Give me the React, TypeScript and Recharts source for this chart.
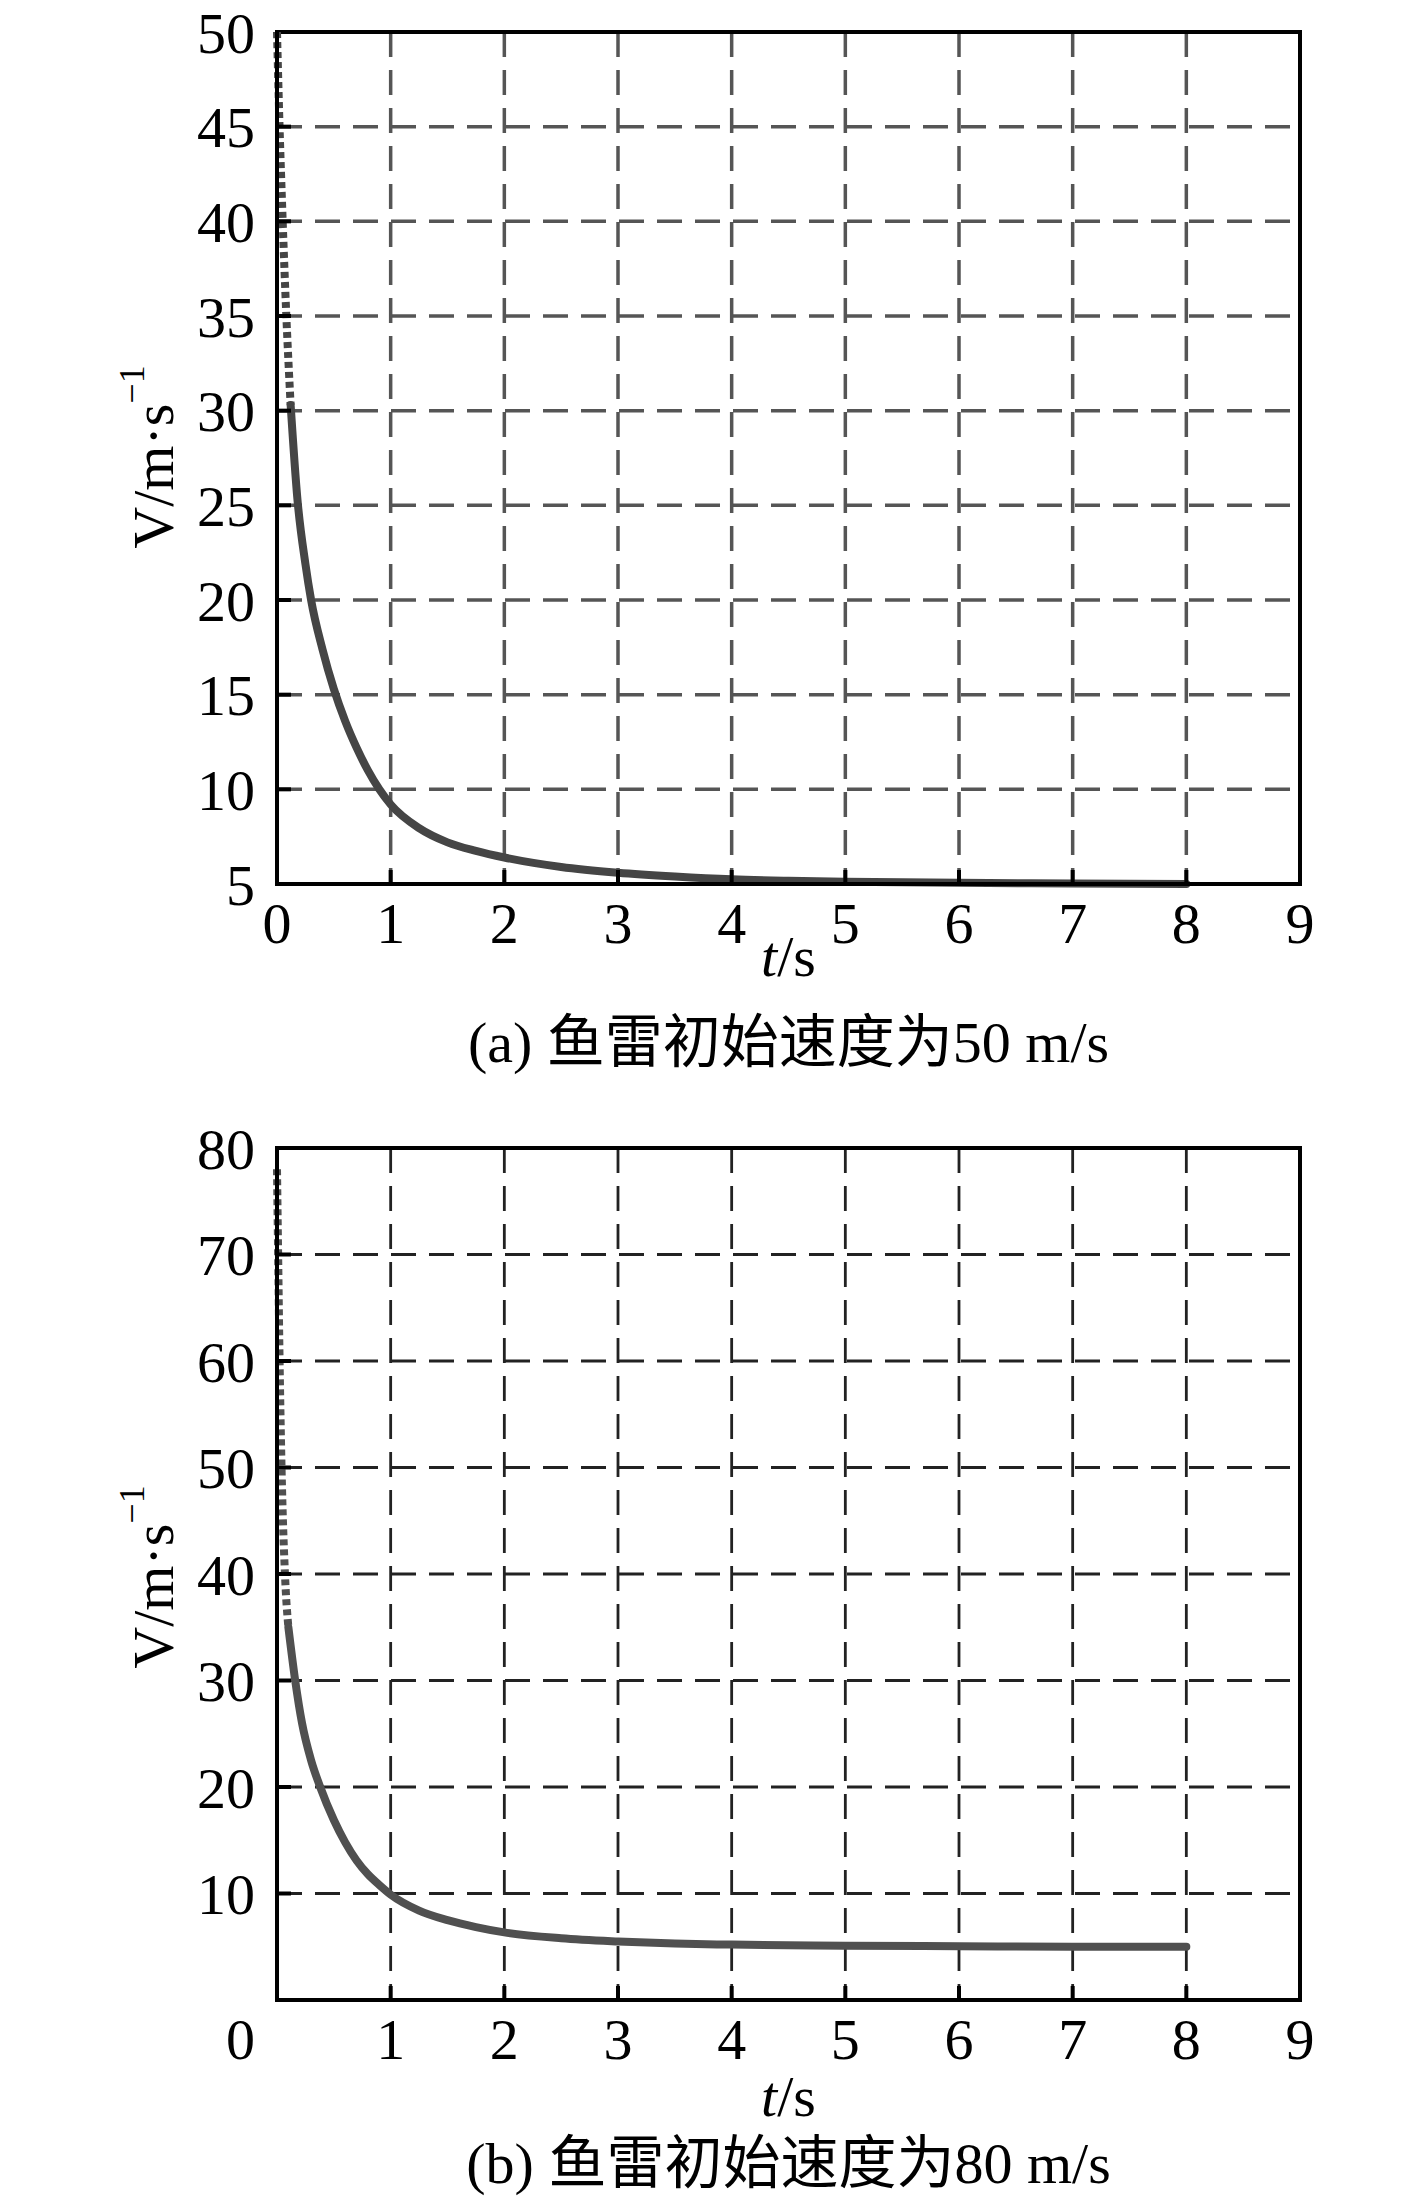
import React from "react";
import { LineChart, Line, XAxis, YAxis, CartesianGrid, ReferenceArea } from "recharts";

// shared time axis
const timeTicks = [0, 1, 2, 3, 4, 5, 6, 7, 8, 9];

// (a) initial speed 50 m/s
const speedTicksA = [5, 10, 15, 20, 25, 30, 35, 40, 45, 50];
const timeA = [0, 0.02, 0.05, 0.08, 0.12, 0.18, 0.25, 0.3, 0.4, 0.5, 0.6, 0.7, 0.8, 0.9, 1.0, 1.25, 1.5, 1.75, 2.0, 2.5, 3.0, 3.5, 4.0, 4.5, 5.0, 6.0, 7.0, 8.0];
const speedA = [50, 45.5, 40, 35.3, 30.3, 25.3, 21.9, 20, 17.4, 15.3, 13.6, 12.2, 11.0, 10.0, 9.2, 7.95, 7.2, 6.75, 6.4, 5.9, 5.6, 5.4, 5.25, 5.17, 5.12, 5.06, 5.03, 5.0];
const dottedEndA = 4;

// (b) initial speed 80 m/s
const speedTicksB = [0, 10, 20, 30, 40, 50, 60, 70, 80];
const timeB = [0, 0.01, 0.02, 0.04, 0.07, 0.1, 0.16, 0.22, 0.3, 0.38, 0.5, 0.6, 0.7, 0.8, 0.9, 1.0, 1.25, 1.5, 1.75, 2.0, 2.5, 3.0, 3.5, 4.0, 5.0, 6.0, 7.0, 8.0];
const speedB = [78, 70, 62, 50, 40, 35, 30, 26, 22.5, 20, 16.9, 14.8, 13.1, 11.8, 10.8, 9.9, 8.4, 7.5, 6.85, 6.35, 5.8, 5.5, 5.3, 5.2, 5.1, 5.05, 5.0, 5.0];
const dottedEndB = 5;

const captionA = "(a) 鱼雷初始速度为50 m/s";
const captionB = "(b) 鱼雷初始速度为80 m/s";

const SERIF = "'Liberation Serif', 'Times New Roman', 'Noto Sans CJK SC', serif";
const FS = 58;
const W = 1417;
const PLOT_LEFT = 277;
const PLOT_RIGHT = 1300;
const CENTER_X = (PLOT_LEFT + PLOT_RIGHT) / 2;
const X_MARGIN = 18;
const Y_MARGIN = 22;
const X_HEIGHT = 60;
const INNER_TICK = 14;

function buildRows(ts: number[], vs: number[], dottedEnd: number) {
  return ts.map((t, i) => ({
    t,
    head: i <= dottedEnd ? vs[i] : undefined,
    tail: i >= dottedEnd ? vs[i] : undefined,
  }));
}

function XTick(props: any) {
  const { x, y, payload, zeroAtCorner } = props;
  const v = payload.value;
  const axisY = y - X_MARGIN;
  const edge = v === timeTicks[0] || v === timeTicks[timeTicks.length - 1];
  const corner = zeroAtCorner && v === 0;
  return (
    <g>
      {!edge && <line x1={x} x2={x} y1={axisY} y2={axisY - INNER_TICK} stroke="#000" strokeWidth={4} />}
      <text
        x={corner ? x - Y_MARGIN : x}
        y={y}
        dy="0.71em"
        textAnchor={corner ? "end" : "middle"}
        fill="#000"
        fontSize={FS}
        fontFamily={SERIF}
      >
        {v}
      </text>
    </g>
  );
}

function YTick(props: any) {
  const { x, y, payload, ticks, hideZero } = props;
  const v = payload.value;
  const axisX = x + Y_MARGIN;
  const edge = v === ticks[0] || v === ticks[ticks.length - 1];
  return (
    <g>
      {!edge && <line x1={axisX} x2={axisX + INNER_TICK} y1={y} y2={y} stroke="#000" strokeWidth={4} />}
      {!(hideZero && v === 0) && (
        <text x={x} y={y} dy="0.355em" textAnchor="end" fill="#000" fontSize={FS} fontFamily={SERIF}>
          {v}
        </text>
      )}
    </g>
  );
}

type ChartProps = {
  rows: any[];
  yTicks: number[];
  height: number;
  plotTop: number;
  plotBottom: number;
  zeroAtCorner: boolean;
  gridColor: string;
  gridWidth: number;
  lineColor: string;
};

function SpeedChart({ rows, yTicks, height, plotTop, plotBottom, zeroAtCorner, gridColor, gridWidth, lineColor }: ChartProps) {
  const yMin = yTicks[0];
  const yMax = yTicks[yTicks.length - 1];
  return (
    <LineChart
      width={W}
      height={height}
      data={rows}
      margin={{ top: plotTop, right: W - PLOT_RIGHT, left: 0, bottom: height - plotBottom - X_HEIGHT }}
    >
      <CartesianGrid stroke={gridColor} strokeWidth={gridWidth} strokeDasharray="25 13" />
      <XAxis
        type="number"
        dataKey="t"
        domain={[0, 9]}
        ticks={timeTicks}
        interval={0}
        height={X_HEIGHT}
        tickSize={0}
        tickMargin={X_MARGIN}
        axisLine={{ stroke: "#000", strokeWidth: 4 }}
        tickLine={false}
        tick={(p: any) => <XTick {...p} zeroAtCorner={zeroAtCorner} />}
      />
      <YAxis
        type="number"
        domain={[yMin, yMax]}
        ticks={yTicks}
        interval={0}
        width={PLOT_LEFT}
        tickSize={0}
        tickMargin={Y_MARGIN}
        axisLine={{ stroke: "#000", strokeWidth: 4 }}
        tickLine={false}
        tick={(p: any) => <YTick {...p} ticks={yTicks} hideZero={zeroAtCorner} />}
      />
      <ReferenceArea x1={0} x2={9} y1={yMin} y2={yMax} fill="none" stroke="#000" strokeWidth={4} />
      <Line
        type="monotone"
        dataKey="head"
        stroke={lineColor}
        strokeWidth={8}
        strokeDasharray="6 4"
        dot={false}
        isAnimationActive={false}
      />
      <Line
        type="monotone"
        dataKey="tail"
        stroke={lineColor}
        strokeWidth={8}
        strokeLinecap="round"
        dot={false}
        isAnimationActive={false}
      />
    </LineChart>
  );
}

const textStyle: React.CSSProperties = {
  position: "absolute",
  fontFamily: SERIF,
  fontSize: FS,
  lineHeight: 1,
  whiteSpace: "nowrap",
  color: "#000",
  transform: "translate(-50%, -50%)",
};

function YLabel({ cy }: { cy: number }) {
  return (
    <div style={{ ...textStyle, left: 154, top: cy, transform: "translate(-50%, -50%) rotate(-90deg)" }}>
      V/m·s<sup style={{ fontSize: "0.62em", lineHeight: 0, verticalAlign: "0.8em" }}>−1</sup>
    </div>
  );
}

function XLabel({ cy }: { cy: number }) {
  return (
    <div style={{ ...textStyle, left: CENTER_X, top: cy }}>
      <i>t</i>/s
    </div>
  );
}

export default function App() {
  const rowsA = buildRows(timeA, speedA, dottedEndA);
  const rowsB = buildRows(timeB, speedB, dottedEndB);
  return (
    <div style={{ position: "absolute", left: 0, top: 0, width: W, height: 2197, background: "#fff", overflow: "hidden" }}>
      <div style={{ position: "absolute", left: 0, top: 0 }}>
        <SpeedChart
          rows={rowsA}
          yTicks={speedTicksA}
          height={1100}
          plotTop={32}
          plotBottom={884}
          zeroAtCorner={false}
          gridColor="#555"
          gridWidth={3.5}
          lineColor="#454545"
        />
      </div>
      <div style={{ position: "absolute", left: 0, top: 1100 }}>
        <SpeedChart
          rows={rowsB}
          yTicks={speedTicksB}
          height={1097}
          plotTop={48}
          plotBottom={900}
          zeroAtCorner={true}
          gridColor="#222"
          gridWidth={2.8}
          lineColor="#505050"
        />
      </div>
      <YLabel cy={457} />
      <XLabel cy={957} />
      <div style={{ ...textStyle, left: CENTER_X, top: 1043 }}>{captionA}</div>
      <YLabel cy={1577} />
      <XLabel cy={2097} />
      <div style={{ ...textStyle, left: CENTER_X, top: 2164 }}>{captionB}</div>
    </div>
  );
}
